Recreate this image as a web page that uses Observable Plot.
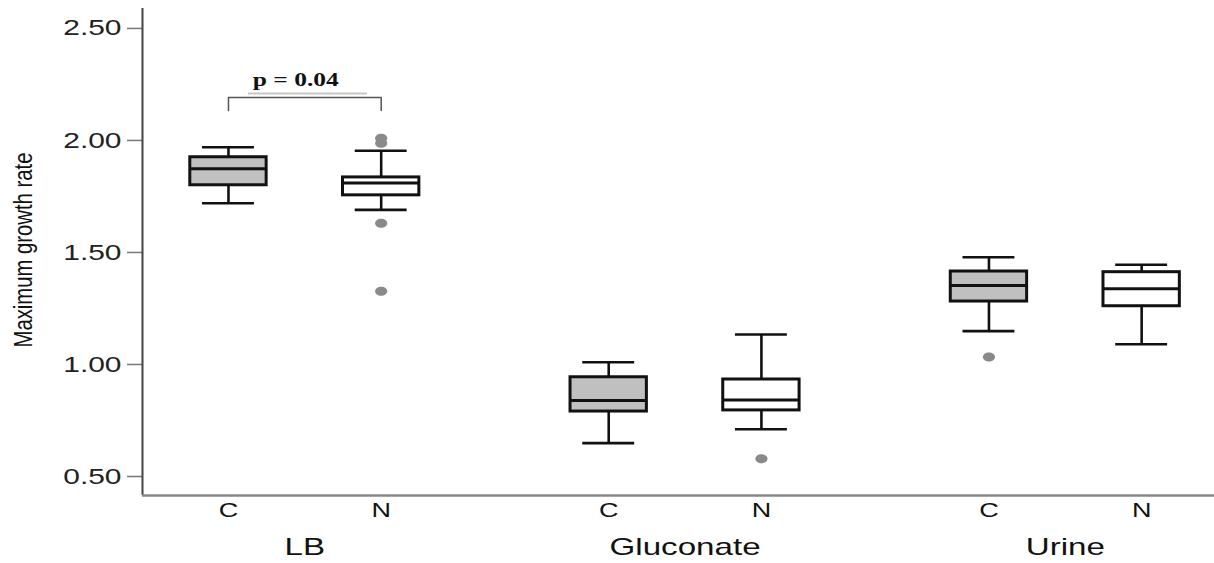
<!DOCTYPE html>
<html><head><meta charset="utf-8">
<script src="https://cdn.jsdelivr.net/npm/d3@7"></script>
<script src="https://cdn.jsdelivr.net/npm/@observablehq/plot@0.6"></script>
<style>
body{margin:0;background:#fff;}
#chart svg{display:block;}
</style></head><body><div id="chart"></div>
<script>
// ---- data ----
const groups = ["LB","LB","Gluconate","Gluconate","Urine","Urine"];
const strains = ["C","N","C","N","C","N"];
const whiskerLow  = [1.72, 1.69, 0.649, 0.711, 1.149, 1.09];
const quartile1   = [1.80, 1.755, 0.79, 0.795, 1.281, 1.26];
const medians     = [1.874, 1.81, 0.839, 0.842, 1.353, 1.338];
const quartile3   = [1.925, 1.835, 0.943, 0.933, 1.415, 1.412];
const whiskerHigh = [1.97, 1.954, 1.01, 1.134, 1.479, 1.445];
const outlierGroups  = ["LB","LB","LB","LB","Gluconate","Urine"];
const outlierStrains = ["N","N","N","N","N","C"];
const outlierValues  = [2.01, 1.987, 1.63, 1.327, 0.579, 1.033];
const groupNames = ["LB","Gluconate","Urine"];
const strainNames = ["C","N"];
const yTicks = [0.5, 1.0, 1.5, 2.0, 2.5];
const yTitle = "Maximum growth rate";
const pLabel = "p = 0.04";
const pGroup = "LB";
const pLevel = 2.192, pLeg = 2.134, pTextLevel = 2.27, pUnderLevel = 2.21;

// ---- layout ----
const groupStep = 2.49;
const pos = (g, s) => groupNames.indexOf(g) * groupStep + strainNames.indexOf(s);
const xDomain = [-0.563, 6.457];
const yDomain = [0.4152, 2.589];
const boxHalf = 0.25, capHalf = 0.17;

const rows = groups.map((g, i) => ({
  group: g, strain: strains[i], x: pos(g, strains[i]),
  lo: whiskerLow[i], q1: quartile1[i], med: medians[i], q3: quartile3[i], hi: whiskerHigh[i]
}));
const outRows = outlierValues.map((v, i) => ({x: pos(outlierGroups[i], outlierStrains[i]), y: v}));

const ellipse = {
  draw(ctx, size) {
    const r = Math.sqrt(size / Math.PI), rx = r * 1.35, ry = r, k = 0.5523;
    ctx.moveTo(rx, 0);
    ctx.bezierCurveTo(rx, ry * k, rx * k, ry, 0, ry);
    ctx.bezierCurveTo(-rx * k, ry, -rx, ry * k, -rx, 0);
    ctx.bezierCurveTo(-rx, -ry * k, -rx * k, -ry, 0, -ry);
    ctx.bezierCurveTo(rx * k, -ry, rx, -ry * k, rx, 0);
    ctx.closePath();
  }
};

const bx0 = pos(pGroup, "C"), bx1 = pos(pGroup, "N");
const ink = "#111";

const chart = Plot.plot({
  width: 1214, height: 563,
  marginLeft: 142, marginRight: 0, marginTop: 8, marginBottom: 68,
  style: {fontFamily: "'Liberation Sans', Arial, sans-serif", background: "#fff", overflow: "visible"},
  x: {domain: xDomain, axis: null},
  y: {domain: yDomain, axis: null},
  color: {type: "identity"},
  marks: [
    Plot.axisY({ticks: yTicks, tickFormat: d3.format(".2f"), tickSize: 15, tickPadding: 6,
      fontSize: 22, label: null, stroke: "#777", strokeWidth: 1.5, fill: "#222"}),
    Plot.ruleX([xDomain[0]], {stroke: "#444", strokeWidth: 2}),
    Plot.ruleY([yDomain[0]], {stroke: "#888", strokeWidth: 2.5}),
    // whiskers
    Plot.ruleX(rows, {x: "x", y1: "lo", y2: "q1", stroke: ink, strokeWidth: 2.6}),
    Plot.ruleX(rows, {x: "x", y1: "q3", y2: "hi", stroke: ink, strokeWidth: 2.6}),
    Plot.ruleY(rows, {y: "lo", x1: d => d.x - capHalf, x2: d => d.x + capHalf, stroke: ink, strokeWidth: 2.6}),
    Plot.ruleY(rows, {y: "hi", x1: d => d.x - capHalf, x2: d => d.x + capHalf, stroke: ink, strokeWidth: 2.6}),
    // boxes
    Plot.rect(rows, {x1: d => d.x - boxHalf, x2: d => d.x + boxHalf, y1: "q1", y2: "q3",
      fill: d => d.strain === "C" ? "#c0c0c0" : "#ffffff", stroke: ink, strokeWidth: 3}),
    Plot.ruleY(rows, {y: "med", x1: d => d.x - boxHalf, x2: d => d.x + boxHalf, stroke: ink, strokeWidth: 3}),
    // outliers
    Plot.dot(outRows, {x: "x", y: "y", r: 4.5, symbol: ellipse, fill: "#8a8a8a", stroke: "none"}),
    // significance bracket
    Plot.line([[bx0, pLeg], [bx0, pLevel], [bx1, pLevel], [bx1, pLeg]],
      {x: d => d[0], y: d => d[1], stroke: "#555", strokeWidth: 1.5}),
    Plot.ruleY([pUnderLevel], {x1: bx0 + 0.13, x2: bx0 + 0.91, stroke: "#c8c8c8", strokeWidth: 2}),
    // text marks (order matters for post-processing below)
    Plot.text([pLabel], {x: (bx0 + bx1) / 2, y: pTextLevel, dx: -9, text: d => d,
      fontFamily: "'Liberation Serif', 'Times New Roman', serif", fontWeight: "bold", fontSize: 19,
      fill: ink}),
    Plot.text(rows, {x: "x", text: "strain", frameAnchor: "bottom", dy: 21, fontSize: 20, fill: ink}),
    Plot.text(groupNames, {x: g => pos(g, "C") + 0.5, text: d => d, frameAnchor: "bottom", dy: 59,
      fontSize: 24, fill: ink}),
    Plot.text([yTitle], {frameAnchor: "left", textAnchor: "middle", dx: -119, dy: -2, rotate: -90,
      text: d => d, fontSize: 25, fill: ink})
  ]
});
document.getElementById("chart").appendChild(chart);

function stretch(texts, factor, fixed) {
  texts.forEach(t => {
    const w = fixed || t.getComputedTextLength() * factor;
    t.setAttribute("textLength", w);
    t.setAttribute("lengthAdjust", "spacingAndGlyphs");
  });
}
const textGroups = chart.querySelectorAll('g[aria-label="text"]');
stretch(chart.querySelectorAll('g[aria-label="y-axis tick label"] text'), 1.36);
stretch(textGroups[0].querySelectorAll("text"), 1.34);
stretch(textGroups[1].querySelectorAll("text"), 1.35);
stretch(textGroups[2].querySelectorAll("text"), 1.38);
stretch(textGroups[3].querySelectorAll("text"), 1, 195);
</script></body></html>
